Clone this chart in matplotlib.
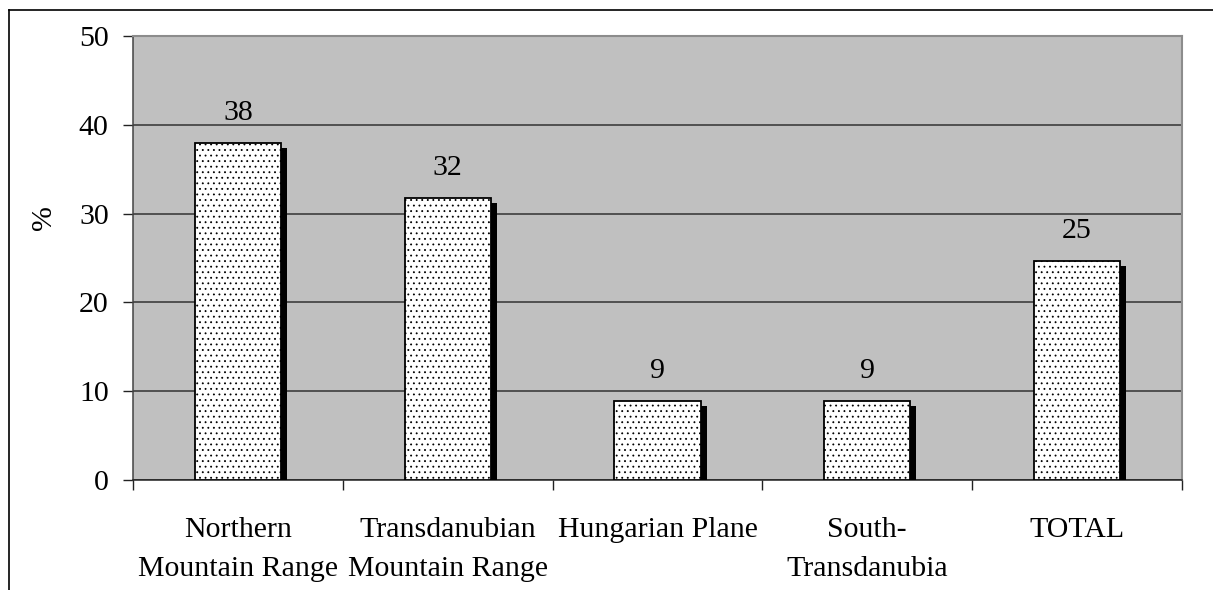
import matplotlib
matplotlib.use("Agg")
import matplotlib.pyplot as plt
import matplotlib.patheffects as pe
from matplotlib.lines import Line2D

# data
regions = ["Northern\nMountain Range", "Transdanubian\nMountain Range",
           "Hungarian Plane", "South-\nTransdanubia", "TOTAL"]
share = [38.0, 31.8, 8.9, 8.9, 24.7]
share_labels = ["38", "32", "9", "9", "25"]

plt.rcParams['font.family'] = ['Liberation Serif', 'DejaVu Serif']
plt.rcParams['hatch.color'] = '#c4c4c4'
plt.rcParams['hatch.linewidth'] = 0.6

fig = plt.figure(figsize=(12.13, 5.9), dpi=100)
ax = fig.add_axes([133 / 1213, 1 - 480 / 590, 1049 / 1213, 444 / 590])
ax.set_facecolor('#c0c0c0')

x = list(range(len(regions)))
bars = ax.bar(x, share, width=0.41, color='white', edgecolor='black',
              linewidth=1.3, hatch='...', zorder=3)
for b in bars:
    b.set_path_effects([pe.SimplePatchShadow(offset=(4.4, -3.6), shadow_rgbFace='black', alpha=1.0),
                        pe.Normal()])

fs = 21.5
for xi, v, lab in zip(x, share, share_labels):
    ax.annotate(lab, (xi, v), xytext=(0, 12), textcoords='offset points',
                ha='center', va='bottom', fontsize=fs)

ax.set_xlim(-0.5, len(regions) - 0.5)
ax.set_ylim(0, 50)
ax.set_yticks(range(0, 51, 10))
ax.grid(axis='y', color='#333333', linewidth=1.1, zorder=1)
ax.set_axisbelow(True)

ax.set_xticks(x)
ax.set_xticklabels(regions, fontsize=fs, va='top', linespacing=1.68)
ax.set_xticks([i - 0.5 for i in range(len(regions) + 1)], minor=True)
ax.tick_params(axis='x', which='major', length=0, pad=26.5)
ax.tick_params(axis='x', which='minor', length=7.5, width=1, color='#222222')
ax.tick_params(axis='y', length=7.5, width=1, color='#222222', pad=10, labelsize=fs)

for s in ['top', 'right']:
    ax.spines[s].set_color('#8c8c8c')
    ax.spines[s].set_linewidth(1.5)
ax.spines['left'].set_color('#444444')
ax.spines['bottom'].set_color('#222222')
ax.spines['left'].set_linewidth(1.1)
ax.spines['bottom'].set_linewidth(1.1)

ax.text(-0.085, 0.59, "%", transform=ax.transAxes, rotation=90,
        ha='center', va='center', fontsize=fs)

# outer chart frame (cut off on the right and bottom)
fig.add_artist(Line2D([9 / 1213, 9 / 1213], [0, 1 - 10 / 590], color='black', linewidth=1.2))
fig.add_artist(Line2D([9 / 1213, 1], [1 - 10 / 590, 1 - 10 / 590], color='black', linewidth=1.2))

plt.savefig("out.png", dpi=100)
